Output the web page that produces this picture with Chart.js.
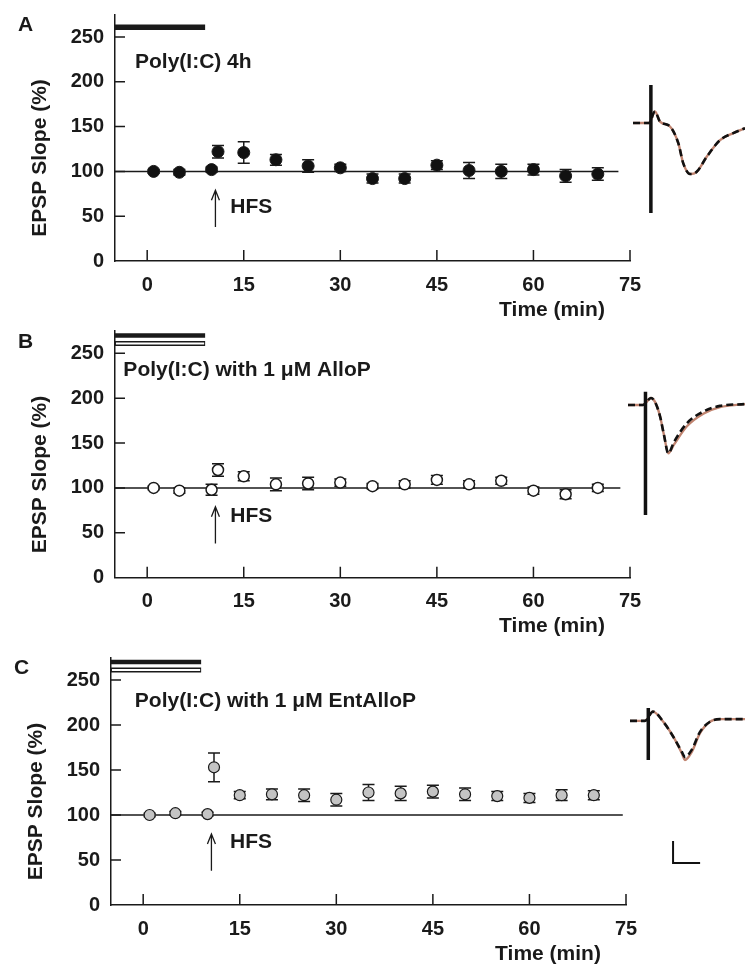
<!DOCTYPE html>
<html>
<head>
<meta charset="utf-8">
<title>EPSP slope after HFS</title>
<script src="https://cdn.jsdelivr.net/npm/chart.js@4.4.0/dist/chart.umd.min.js"></script>
<style>
    body { margin: 0; background: #fff; }
    #wrap { position: relative; width: 745px; height: 964px; overflow: hidden; }
    canvas { position: absolute; }
</style>
</head>
<body>
<div id="wrap">
    <canvas id="chartA" width="745" height="320" style="left:0;top:0;width:745px;height:320px"></canvas>
    <canvas id="chartB" width="745" height="320" style="left:0;top:320px;width:745px;height:320px"></canvas>
    <canvas id="chartC" width="745" height="324" style="left:0;top:640px;width:745px;height:324px"></canvas>
    <canvas id="traceA" width="119" height="150" style="left:626px;top:75px;width:119px;height:150px"></canvas>
    <canvas id="traceB" width="119" height="145" style="left:626px;top:380px;width:119px;height:145px"></canvas>
    <canvas id="traceC" width="119" height="170" style="left:626px;top:700px;width:119px;height:170px"></canvas>
</div>
<script>
// time points (min) shared by all three panels
const times = [1, 5, 10, 11, 15, 20, 25, 30, 35, 40, 45, 50, 55, 60, 65, 70];

// A: Poly(I:C) 4h
const slopeA = [100, 99, 102, 122, 121, 113, 106, 104, 92, 92, 107, 101, 100, 102, 95, 97];
const semA = [2, 3, 3, 7, 12, 6, 7, 4, 5, 5, 5, 9, 8, 6, 7, 7];

// B: Poly(I:C) with 1 uM AlloP
const slopeB = [100, 97, 98, 120, 113, 104, 105, 106, 102, 104, 109, 104, 108, 97, 93, 100];
const semB = [2, 3, 6, 7, 5, 7, 7, 4, 3, 4, 5, 4, 4, 4, 5, 4];

// C: Poly(I:C) with 1 uM EntAlloP
const slopeC = [100, 102, 101, 153, 122, 123, 122, 117, 125, 124, 126, 123, 121, 119, 122, 122];
const semC = [2, 2, 2, 16, 4, 6, 7, 7, 9, 8, 7, 7, 5, 5, 6, 5];

const xTicks = [0, 15, 30, 45, 60, 75];
const yTicks = [0, 50, 100, 150, 200, 250];
const hfsTime = 10.6;
const drugStart = -5;
const drugEnd = 9;

// representative EPSP traces (ms, mV): ctrl = before HFS, post = after HFS
const traceTimeA = [1.3, 4.25, 5.36, 6.28, 8.13, 9.67, 10.59, 11.83, 13.07, 14.92, 17.38, 19.83, 22.0];
const traceCtrlA = [0, 0, 0.26, 0.03, -0.08, -0.46, -0.92, -1.16, -1.11, -0.77, -0.39, -0.23, -0.12];
const tracePostA = [0, 0, 0.26, 0.03, -0.08, -0.46, -0.92, -1.16, -1.11, -0.77, -0.39, -0.23, -0.12];
const spikeA = [4.6, 0.86, -2.05];

const traceTimeB = [0.37, 3.14, 4.62, 5.36, 6.28, 7.02, 7.82, 8.87, 11.22, 14.29, 17.38, 22.0];
const traceCtrlB = [0, 0, 0.16, 0.07, -0.25, -0.68, -1.1, -0.9, -0.49, -0.2, -0.05, 0.02];
const tracePostB = [0, 0, 0.16, 0.07, -0.25, -0.68, -1.1, -0.84, -0.42, -0.15, -0.02, 0.02];
const spikeB = [3.6, 0.3, -2.5];

const traceTimeC = [0.74, 3.51, 4.99, 6.89, 8.74, 10.3, 10.9, 12.14, 13.68, 15.53, 17.38, 22.0];
const traceCtrlC = [-0.02, -0.02, 0.19, -0.04, -0.38, -0.75, -0.91, -0.73, -0.3, -0.04, 0.02, 0.02];
const tracePostC = [-0.02, -0.02, 0.19, -0.04, -0.38, -0.72, -0.84, -0.68, -0.27, -0.04, 0.02, 0.02];
const spikeC = [4.12, 0.27, -0.91];

// calibration: 5 ms, 0.5 mV
const scaleBarMs = 5;
const scaleBarMv = 0.5;

const FONT = '"Liberation Sans", Arial, Helvetica, sans-serif';
const INK = '#1a1a1a';

const panelDeco = {
    id: 'panelDeco',
    beforeDatasetsDraw(chart, args, o) {
        // error bars (points are drawn on top of them)
        const ctx = chart.ctx, x = chart.scales.x, y = chart.scales.y;
        ctx.save();
        ctx.strokeStyle = INK;
        ctx.lineWidth = 1.5;
        ctx.beginPath();
        o.values.forEach((v, i) => {
            const px = x.getPixelForValue(times[i]);
            const top = y.getPixelForValue(v + o.sem[i]);
            const bot = y.getPixelForValue(v - o.sem[i]);
            ctx.moveTo(px, top); ctx.lineTo(px, bot);
            ctx.moveTo(px - 6, top); ctx.lineTo(px + 6, top);
            ctx.moveTo(px - 6, bot); ctx.lineTo(px + 6, bot);
        });
        ctx.stroke();
        ctx.restore();
    },
    afterDraw(chart, args, o) {
        const ctx = chart.ctx, x = chart.scales.x, y = chart.scales.y, area = chart.chartArea;
        ctx.save();
        ctx.strokeStyle = INK;
        ctx.fillStyle = INK;
        ctx.lineWidth = 1.5;

        // inward tick marks
        ctx.beginPath();
        yTicks.forEach(v => {
            if (v === 0) return;
            const py = y.getPixelForValue(v);
            ctx.moveTo(area.left, py); ctx.lineTo(area.left + 10, py);
        });
        xTicks.forEach(v => {
            const px = x.getPixelForValue(v);
            ctx.moveTo(px, area.bottom); ctx.lineTo(px, area.bottom - 11);
        });
        ctx.stroke();

        // HFS arrow
        const ax = x.getPixelForValue(hfsTime);
        const aTop = y.getPixelForValue(79), aBot = y.getPixelForValue(38);
        ctx.lineWidth = 1.3;
        ctx.beginPath();
        ctx.moveTo(ax, aBot); ctx.lineTo(ax, aTop);
        ctx.moveTo(ax - 4, aTop + 10); ctx.lineTo(ax, aTop); ctx.lineTo(ax + 4, aTop + 10);
        ctx.stroke();

        ctx.textBaseline = 'middle';
        ctx.textAlign = 'left';
        ctx.font = 'bold 21px ' + FONT;
        ctx.fillText('HFS', x.getPixelForValue(o.hfsAt[0]), y.getPixelForValue(o.hfsAt[1]));
        ctx.fillText(o.label, x.getPixelForValue(o.labelAt[0]), y.getPixelForValue(o.labelAt[1]));

        // panel letter
        ctx.fillText(o.letter, area.left - 97, area.top + 11);

        // axis titles
        ctx.textAlign = 'center';
        ctx.fillText('Time (min)', area.right - 78, area.bottom + 49);
        ctx.translate(area.left - 75, y.getPixelForValue(115));
        ctx.rotate(-Math.PI / 2);
        ctx.fillText('EPSP Slope (%)', 0, 0);
        ctx.restore();
    }
};

function makePanel(id, cfg) {
    const canvas = document.getElementById(id);
    const datasets = [{
        label: 'EPSP slope',
        data: times.map((t, i) => ({ x: t, y: cfg.values[i] })),
        showLine: false,
        pointRadius: cfg.radius,
        pointBackgroundColor: cfg.fill,
        pointBorderColor: INK,
        pointBorderWidth: cfg.border
    }, {
        label: 'baseline',
        data: [{ x: -5, y: 100 }, { x: cfg.baselineEnd, y: 100 }],
        showLine: true,
        pointRadius: 0,
        borderColor: INK,
        borderWidth: 1.5
    }, {
        label: 'Poly(I:C)',
        data: [{ x: drugStart, y: cfg.polyLevel }, { x: drugEnd, y: cfg.polyLevel }],
        showLine: true,
        pointRadius: 0,
        borderColor: INK,
        borderWidth: cfg.polyLevel === 261 ? 5.5 : 4.5,
        borderCapStyle: 'butt'
    }];
    if (cfg.steroid) {
        // open bar: white core over a black outline
        datasets.unshift({
            label: 'steroid core',
            data: [{ x: drugStart + 0.15, y: 261 }, { x: drugEnd - 0.15, y: 261 }],
            showLine: true,
            pointRadius: 0,
            borderColor: '#fff',
            borderWidth: 2,
            borderCapStyle: 'butt'
        });
        datasets.splice(3, 0, {
            label: 'steroid',
            data: [{ x: drugStart, y: 261 }, { x: drugEnd, y: 261 }],
            showLine: true,
            pointRadius: 0,
            borderColor: INK,
            borderWidth: 5,
            borderCapStyle: 'butt'
        });
        // keep the points on top
        const pts = datasets.splice(1, 1)[0];
        datasets.unshift(pts);
    }

    return new Chart(canvas.getContext('2d'), {
        type: 'scatter',
        data: { datasets: datasets },
        options: {
            responsive: false,
            animation: false,
            events: [],
            layout: { padding: { left: cfg.left - 100, right: 745 - cfg.left - 515, top: cfg.top, bottom: 0 } },
            plugins: {
                legend: { display: false },
                tooltip: { enabled: false },
                panelDeco: {
                    letter: cfg.letter,
                    label: cfg.label,
                    labelAt: cfg.labelAt,
                    hfsAt: cfg.hfsAt,
                    values: cfg.values,
                    sem: cfg.sem
                }
            },
            scales: {
                x: {
                    type: 'linear',
                    min: -5,
                    max: 75,
                    afterBuildTicks: s => { s.ticks = xTicks.map(v => ({ value: v })); },
                    afterFit: s => { s.height = cfg.xHeight; s.paddingLeft = 0; s.paddingRight = 0; },
                    grid: { display: false, drawTicks: false },
                    border: { color: INK, width: 1.5 },
                    ticks: { color: INK, padding: 12, maxRotation: 0, font: { family: FONT, size: 20, weight: 'bold' } }
                },
                y: {
                    type: 'linear',
                    min: 0,
                    max: 275,
                    afterBuildTicks: s => { s.ticks = yTicks.map(v => ({ value: v })); },
                    afterFit: s => { s.width = 100; s.paddingTop = 0; s.paddingBottom = 0; },
                    grid: { display: false, drawTicks: false },
                    border: { color: INK, width: 1.5 },
                    ticks: { color: INK, padding: 11, font: { family: FONT, size: 20, weight: 'bold' } }
                }
            }
        },
        plugins: [panelDeco]
    });
}

function makeTrace(id, t, ctrl, post, spike, yMin, yMax, withBar) {
    const canvas = document.getElementById(id);
    const datasets = [{
        label: 'stimulus artifact',
        data: [{ x: spike[0], y: spike[1] }, { x: spike[0], y: spike[2] }],
        showLine: true,
        pointRadius: 0,
        borderColor: '#111',
        borderWidth: 3.5,
        clip: false
    }, {
        label: 'after HFS',
        data: t.map((v, i) => ({ x: v, y: post[i] })),
        showLine: true,
        pointRadius: 0,
        borderColor: '#111',
        borderWidth: 2.6,
        borderDash: [7, 4],
        cubicInterpolationMode: 'monotone',
        clip: false
    }, {
        label: 'before HFS',
        data: t.map((v, i) => ({ x: v, y: ctrl[i] })),
        showLine: true,
        pointRadius: 0,
        borderColor: '#c08470',
        borderWidth: 2.4,
        cubicInterpolationMode: 'monotone',
        clip: false
    }];
    if (withBar) {
        datasets.push({
            label: 'calibration',
            data: [{ x: 8.7, y: -3.25 + scaleBarMv }, { x: 8.7, y: -3.25 }, { x: 8.7 + scaleBarMs, y: -3.25 }],
            showLine: true,
            pointRadius: 0,
            borderColor: '#111',
            borderWidth: 2,
            clip: false
        });
    }
    return new Chart(canvas.getContext('2d'), {
        type: 'scatter',
        data: { datasets: datasets },
        options: {
            responsive: false,
            animation: false,
            events: [],
            layout: { padding: 0 },
            plugins: { legend: { display: false }, tooltip: { enabled: false } },
            scales: {
                x: { type: 'linear', display: false, min: 0, max: 22 },
                y: { type: 'linear', display: false, min: yMin, max: yMax }
            }
        }
    });
}

document.addEventListener('DOMContentLoaded', function () {
    makePanel('chartA', {
        letter: 'A', label: 'Poly(I:C) 4h', labelAt: [-1.9, 222], hfsAt: [12.9, 60],
        values: slopeA, sem: semA, radius: 6, fill: '#111', border: 1,
        baselineEnd: 73.2, polyLevel: 261, steroid: false,
        left: 115, top: 14.6, xHeight: 59
    });
    makePanel('chartB', {
        letter: 'B', label: 'Poly(I:C) with 1 \u03bcM AlloP', labelAt: [-3.7, 231], hfsAt: [12.9, 68],
        values: slopeB, sem: semB, radius: 5.5, fill: '#fff', border: 1.5,
        baselineEnd: 73.5, polyLevel: 270, steroid: true,
        left: 115, top: 10.9, xHeight: 62.3
    });
    makePanel('chartC', {
        letter: 'C', label: 'Poly(I:C) with 1 \u03bcM EntAlloP', labelAt: [-1.3, 226], hfsAt: [13.5, 70],
        values: slopeC, sem: semC, radius: 5.5, fill: '#c4c4c4', border: 1.2,
        baselineEnd: 74.5, polyLevel: 270, steroid: true,
        left: 111, top: 17.5, xHeight: 59
    });

    makeTrace('traceA', traceTimeA, traceCtrlA, tracePostA, spikeA, -2.32, 1.09, false);
    makeTrace('traceB', traceTimeB, traceCtrlB, tracePostB, spikeB, -2.727, 0.568, false);
    makeTrace('traceC', traceTimeC, traceCtrlC, tracePostC, spikeC, -3.409, 0.4545, true);
});
</script>
</body>
</html>
